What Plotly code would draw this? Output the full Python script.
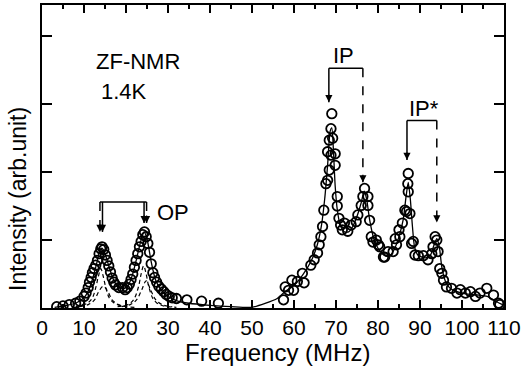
import plotly.graph_objects as go

# ---------------- data ----------------
freq_op = [3.5, 5, 6.5, 8, 9, 10, 10.5, 11, 11.3, 11.7, 12, 12.4, 12.8, 13.2, 13.6, 14, 14.3,
           14.7, 15.1, 15.5, 15.9, 16.3, 16.7, 17.1, 17.5, 18.3, 19.2, 19.8, 20.3, 20.8, 21.2,
           21.6, 22, 22.4, 22.8, 23.2, 23.6, 24, 24.4, 24.8, 25.2, 25.6, 26, 26.4, 26.8, 27.3,
           27.8, 28.4, 29, 29.6, 30.3, 31, 32, 34.5, 38, 42]
int_op = [0.02, 0.03, 0.05, 0.07, 0.1, 0.17, 0.22, 0.3, 0.38, 0.45, 0.52, 0.58, 0.63, 0.7, 0.8,
          0.87, 0.9, 0.86, 0.78, 0.7, 0.62, 0.53, 0.44, 0.38, 0.34, 0.3, 0.3, 0.27, 0.3, 0.35,
          0.42, 0.5, 0.6, 0.7, 0.8, 0.9, 0.98, 1.08, 1.12, 1.05, 0.95, 0.82, 0.65, 0.52, 0.45,
          0.38, 0.32, 0.28, 0.24, 0.2, 0.17, 0.15, 0.14, 0.12, 0.1, 0.07]

freq_ip = [57.5, 57.9, 58.7, 59.5, 59.9, 60.8, 62.0, 62.4, 64.0, 64.8, 65.6, 66.0, 66.4, 66.8,
           67.1, 67.6, 68.0, 68.4, 68.0, 68.8, 68.4, 69.2, 68.8, 69.0, 69.8, 69.8, 70.3, 70.3,
           70.7, 71.1, 71.5, 72.0, 72.8, 73.6, 74.8, 75.2, 76.0, 76.4, 76.8, 77.6, 77.6, 78.0,
           78.4, 78.8, 79.6, 80.1, 80.4, 81.3, 81.6, 82.4, 83.6, 84.1, 84.4, 85.0, 85.2, 85.8,
           86.4, 86.8, 87.1, 87.2, 87.2, 87.6, 88.0, 88.4, 88.8, 89.6, 90.8, 91.9, 92.8, 93.1,
           93.6, 94.0, 94.3, 94.7, 95.2, 95.6, 96.3, 97.5, 98.8, 99.6, 100.8, 102.0, 103.2,
           104.3, 105.9, 107.5, 108.7, 109.0]
int_ip = [0.12, 0.31, 0.26, 0.41, 0.26, 0.39, 0.51, 0.37, 0.63, 0.71, 0.81, 0.93, 1.05, 1.2,
          1.44, 1.83, 1.88, 2.03, 2.3, 2.25, 2.47, 2.5, 2.64, 2.86, 2.27, 2.1, 1.64, 1.5,
          1.32, 1.22, 1.15, 1.25, 1.13, 1.22, 1.27, 1.37, 1.51, 1.64, 1.76, 1.64, 1.51, 1.29,
          1.05, 0.97, 1.0, 0.93, 0.9, 0.75, 0.75, 0.83, 0.83, 1.02, 0.93, 1.15, 1.05, 1.25,
          1.44, 1.42, 1.83, 1.98, 1.71, 1.39, 0.95, 0.98, 0.78, 0.77, 0.77, 0.71, 0.8, 0.9,
          1.05, 1.0, 0.83, 0.58, 0.51, 0.41, 0.31, 0.29, 0.22, 0.27, 0.22, 0.24, 0.17,
          0.22, 0.29, 0.19, 0.07, 0.05]

fit_freq = [3, 6, 8, 10, 11, 12, 13, 13.8, 14.3, 15, 16, 17, 18, 19.3, 20.5, 21.5, 22.5, 23.5,
            24.3, 25, 26, 27, 28, 29, 30, 32, 35, 40, 45, 50, 56, 58, 60, 62, 64, 65.5, 66.5,
            67.3, 68, 68.6, 69, 69.4, 69.8, 70.3, 71, 72, 73, 74, 75, 76, 76.7, 77.3, 78, 79,
            80, 81, 82, 83, 84, 85, 86, 86.7, 87.2, 87.7, 88.2, 88.7, 89.5, 90.5, 91.5, 92.5,
            93.3, 94, 94.6, 95.2, 96, 97, 98, 100, 102, 104, 106, 108, 110]
fit_int = [0.01, 0.04, 0.07, 0.15, 0.25, 0.42, 0.65, 0.85, 0.88, 0.8, 0.6, 0.42, 0.32, 0.28,
           0.33, 0.48, 0.72, 0.98, 1.12, 1.02, 0.68, 0.42, 0.3, 0.22, 0.17, 0.11, 0.07, 0.04,
           0.02, 0.01, 0.14, 0.25, 0.33, 0.48, 0.68, 0.92, 1.2, 1.6, 2.1, 2.6, 2.65, 2.3, 1.8,
           1.45, 1.22, 1.12, 1.12, 1.2, 1.35, 1.55, 1.72, 1.6, 1.3, 1.02, 0.88, 0.8, 0.76,
           0.78, 0.88, 1.05, 1.3, 1.65, 1.85, 1.6, 1.2, 0.9, 0.78, 0.75, 0.74, 0.78, 0.92,
           1.02, 0.9, 0.6, 0.4, 0.3, 0.26, 0.22, 0.2, 0.19, 0.17, 0.1, 0.04]

comp1_freq = [8, 10, 11, 12, 12.8, 13.4, 14, 14.6, 15.2, 16, 17, 18, 20, 22]
comp1_int = [0.02, 0.05, 0.08, 0.15, 0.3, 0.46, 0.58, 0.46, 0.3, 0.15, 0.08, 0.05, 0.02, 0.01]
comp2_freq = [9, 11, 12.5, 13.5, 14.6, 15.7, 16.7, 18.2, 20]
comp2_int = [0.02, 0.05, 0.12, 0.24, 0.32, 0.24, 0.12, 0.05, 0.02]
comp3_freq = [18, 20, 21, 22, 23, 23.6, 24.2, 24.8, 25.4, 26.4, 27.4, 28.4, 30, 32]
comp3_int = [0.02, 0.04, 0.07, 0.14, 0.32, 0.5, 0.62, 0.5, 0.32, 0.14, 0.07, 0.04, 0.02, 0.01]
comp4_freq = [19, 21, 22.5, 23.7, 24.8, 25.9, 27.1, 28.6, 31]
comp4_int = [0.02, 0.05, 0.12, 0.26, 0.4, 0.26, 0.12, 0.05, 0.02]

# bracket / arrow markers
ip_arrows = dict(solid=68.3, dashed=76.4, top=3.53, tip_s=3.03, tip_d=1.85)
ips_arrows = dict(solid=86.9, dashed=94.0, top=2.76, tip_s=2.18, tip_d=1.26)
op_solid = [14.4, 24.3]
op_dashed = [13.8, 24.9]
op_top = 1.56
op_tips = [1.12, 1.25]

x_ticks = [0, 10, 20, 30, 40, 50, 60, 70, 80, 90, 100, 110]
y_ticks = [1, 2, 3, 4]

FONT = "Liberation Sans, Arial, Helvetica, sans-serif"

fig = go.Figure()

for fx, fy in [(comp1_freq, comp1_int), (comp2_freq, comp2_int),
               (comp3_freq, comp3_int), (comp4_freq, comp4_int)]:
    fig.add_trace(go.Scatter(x=fx, y=fy, mode="lines",
                             line=dict(color="black", width=1.2, dash="4px,3px", shape="spline"),
                             hoverinfo="skip", showlegend=False))

fig.add_trace(go.Scatter(x=fit_freq, y=fit_int, mode="lines",
                         line=dict(color="black", width=1.3, shape="spline", smoothing=0.6),
                         showlegend=False))
fig.add_trace(go.Scatter(x=freq_op + freq_ip, y=int_op + int_ip, mode="markers",
                         marker=dict(symbol="circle-open", size=9.5, color="black", line=dict(width=1.8)),
                         showlegend=False))

shapes = []
annotations = []

def vline(x, y0, y1, dash):
    shapes.append(dict(type="line", xref="x", yref="y", x0=x, x1=x, y0=y0, y1=y1,
                       line=dict(color="black", width=1.5, dash="dash" if dash else "solid")))

def hline(x0, x1, y):
    shapes.append(dict(type="line", xref="x", yref="y", x0=x0, x1=x1, y0=y, y1=y,
                       line=dict(color="black", width=1.5)))

def head(x, y):
    annotations.append(dict(x=x, y=y, xref="x", yref="y", ax=0, ay=-9, text="", showarrow=True,
                            arrowhead=2, arrowsize=1.1, arrowwidth=1.3, arrowcolor="black"))

for a in (ip_arrows, ips_arrows):
    hline(a["solid"], a["dashed"], a["top"])
    vline(a["solid"], a["top"], a["tip_s"], False)
    vline(a["dashed"], a["top"], a["tip_d"], True)
    head(a["solid"], a["tip_s"])
    head(a["dashed"], a["tip_d"])

hline(op_dashed[0], op_dashed[1], op_top)
for i in range(2):
    vline(op_solid[i], op_top, op_tips[i], False)
    vline(op_dashed[i], op_top, op_tips[i], True)
    head(op_solid[i], op_tips[i])
    head(op_dashed[i], op_tips[i])

def label(text, x, y, anchor="left", size=22):
    annotations.append(dict(x=x, y=y, xref="x", yref="y", text=text, showarrow=False,
                            xanchor=anchor, yanchor="middle",
                            font=dict(family=FONT, size=size, color="black")))

label("ZF-NMR", 12.4, 3.63)
label("1.4K", 13.6, 3.18)
label("IP", 71.9, 3.71, "center")
label("IP*", 86.8, 2.94)
label("OP", 27.0, 1.40)

# axis titles as paper-anchored annotations (fixed pixel placement)
annotations.append(dict(x=0.51, y=0, xref="paper", yref="paper", yshift=-44,
                        text="Frequency (MHz)", showarrow=False, xanchor="center", yanchor="middle",
                        font=dict(family=FONT, size=24, color="black")))
annotations.append(dict(x=0, y=0.36, xref="paper", yref="paper", xshift=-24,
                        text="Intensity (arb.unit)", showarrow=False, textangle=-90,
                        xanchor="center", yanchor="middle",
                        font=dict(family=FONT, size=23, color="black")))

fig.update_layout(
    width=522, height=370,
    margin=dict(l=42, r=18, t=5, b=62, autoexpand=False),
    paper_bgcolor="white", plot_bgcolor="white",
    font=dict(family=FONT, size=21, color="black"),
    shapes=shapes, annotations=annotations,
    xaxis=dict(range=[0, 110], tickvals=x_ticks, ticks="inside", ticklen=8, tickwidth=1.5,
               tickcolor="black",
               minor=dict(ticks="inside", ticklen=4, dtick=5, tickwidth=1.5, tickcolor="black"),
               showline=True, linewidth=2, linecolor="black", mirror="ticks", showgrid=False,
               zeroline=False, tickfont=dict(size=21), automargin=False),
    yaxis=dict(range=[0, 4.46], tickvals=y_ticks, ticks="inside", ticklen=10, tickwidth=1.5,
               tickcolor="black",
               showticklabels=False, showline=True, linewidth=2, linecolor="black",
               mirror="ticks", showgrid=False, zeroline=False, automargin=False),
)

fig.write_html("out.html", config={"displayModeBar": False},
               post_script="document.body.style.margin='0';document.body.style.overflow='hidden';")
